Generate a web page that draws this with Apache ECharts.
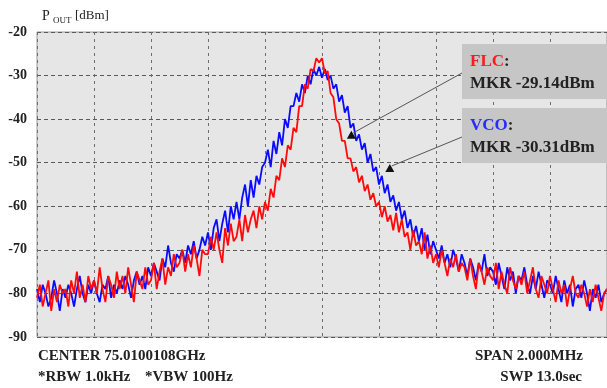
<!DOCTYPE html>
<html>
<head>
<meta charset="utf-8">
<script src="https://cdn.jsdelivr.net/npm/echarts@6/dist/echarts.min.js"></script>
<style>
html, body { margin: 0; padding: 0; background: #fff; }
#main { width: 607px; height: 388px; }
</style>
</head>
<body>
<div id="main"></div>
<script>
// sweep points, -1 .. +1 MHz around the centre, 0.01 MHz apart
const vcoTrace = [
    -79, -82, -78, -80, -83, -81, -77, -80, -84, -79,
    -81, -78, -80, -83, -79, -76, -80, -82, -78, -80,
    -77, -80, -82, -78, -79, -76, -81, -78, -80, -77,
    -79, -76, -78, -81, -77, -75, -78, -76, -79, -74,
    -76, -73, -75, -77, -72, -74, -69, -73, -75, -71,
    -72, -70, -73, -69, -71, -68, -72, -70, -67, -69,
    -66, -70, -65, -63, -68, -64, -61, -66, -60, -63,
    -59, -63, -58, -55, -60, -54, -58, -53, -55, -51,
    -50, -47, -51, -45, -48, -43, -46, -40, -42, -37,
    -37, -34, -36, -32, -34, -30, -32, -28.5, -30, -28,
    -30.5, -28.5, -31, -30, -33, -32, -36, -34.5, -38.5, -37,
    -42, -41, -45, -43.5, -47, -45.5, -50, -48, -52, -51,
    -55, -53, -57, -55, -59, -57.5, -61, -59, -63, -61,
    -65, -63, -67, -64.5, -68, -65, -70, -66.5, -71, -68,
    -70, -72, -69, -73, -71, -74, -70, -72, -75, -71,
    -73, -76, -72, -74, -77, -73, -75, -71, -76, -74,
    -75, -78, -73, -76, -79, -74, -77, -75, -80, -76,
    -77, -74, -78, -80, -76, -79, -75, -78, -81, -77,
    -78, -80, -76, -79, -82, -77, -80, -78, -83, -79,
    -78, -81, -77, -80, -84, -79, -81, -78, -82, -80,
    -79
];
const flcTrace = [
    -81, -78, -83, -80, -77, -84, -79, -82, -78, -80,
    -79, -83, -77, -80, -75, -81, -78, -82, -76, -79,
    -77, -80, -74, -79, -82, -76, -78, -81, -75, -79,
    -76, -80, -74, -78, -82, -75, -77, -79, -74, -78,
    -77, -73, -79, -75, -72, -78, -74, -76, -71, -74,
    -73, -70, -75, -71, -74, -69, -72, -76, -70, -71,
    -71, -67, -70, -66, -70, -73, -65, -69, -64, -68,
    -67, -63, -68, -62, -66, -63, -61, -65, -60, -63,
    -59, -61, -56, -58, -53, -54, -49, -51, -46, -47,
    -42, -43, -37, -37, -32, -33, -28.5, -29, -26, -27,
    -26, -29.5, -29, -34, -35, -40, -41, -45, -45, -49,
    -49, -52, -51, -54.5, -53, -56.5, -55, -58.5, -57, -60,
    -59, -62.5, -60, -63.5, -62, -65.5, -61.5, -66, -63, -67,
    -66, -70, -65.5, -69, -68, -71, -66, -72, -69, -73,
    -71, -74, -70, -73, -76, -72, -74, -71, -75, -73,
    -74, -77, -72, -76, -79, -73, -75, -78, -74, -76,
    -77, -73, -79, -75, -78, -80, -74, -77, -79, -76,
    -78, -75, -80, -77, -74, -79, -81, -76, -78, -80,
    -76, -79, -82, -77, -80, -78, -83, -79, -76, -80,
    -81, -78, -80, -83, -79, -82, -78, -81, -84, -80,
    -79
];
const spanStartMHz = -1;
const spanStepMHz = 0.01;
const freqOffset = vcoTrace.map((_, i) => +(spanStartMHz + i * spanStepMHz).toFixed(2));

const markerFreq = [0.103, 0.238];
const markerLevel = [-43.6, -51.2];
const markerNames = ['FLC', 'VCO'];
const markerReadout = ['MKR -29.14dBm', 'MKR -30.31dBm'];

const footerLeft = ['CENTER 75.0100108GHz', '*RBW 1.0kHz', '*VBW 100Hz'];
const footerRight = ['SPAN 2.000MHz', 'SWP 13.0sec'];

const serif = '"Liberation Serif", "DejaVu Serif", serif';
const nameColors = ['#ff1a1a', '#2a2aff'];

const myChart = echarts.init(document.getElementById('main'));

const option = {
    animation: false,
    grid: {
        left: 37,
        top: 32,
        width: 575,
        height: 305,
        show: true,
        backgroundColor: '#e6e6e6',
        borderColor: '#9a9a9a',
        borderWidth: 1
    },
    xAxis: {
        type: 'value',
        min: -1,
        max: 1,
        interval: 0.2,
        axisLine: { show: false },
        axisTick: { show: false },
        axisLabel: { show: false },
        splitLine: {
            show: true,
            lineStyle: { color: '#6e6e6e', width: 1, type: [3, 4] }
        }
    },
    yAxis: {
        type: 'value',
        min: -90,
        max: -20,
        interval: 10,
        axisLine: { show: false },
        axisTick: { show: false },
        axisLabel: {
            margin: 10,
            color: '#222',
            fontFamily: serif,
            fontWeight: 'bold',
            fontSize: 14
        },
        splitLine: {
            show: true,
            lineStyle: { color: '#5a5a5a', width: 1, type: [4, 3] }
        }
    },
    series: [
        {
            type: 'line',
            name: 'VCO',
            data: freqOffset.map((f, i) => [f, vcoTrace[i]]),
            showSymbol: false,
            color: '#0a0aff',
            lineStyle: { width: 1.8 }
        },
        {
            type: 'line',
            name: 'FLC',
            data: freqOffset.map((f, i) => [f, flcTrace[i]]),
            showSymbol: false,
            color: '#ff0a0a',
            lineStyle: { width: 1.8 },
            markPoint: {
                symbol: 'triangle',
                symbolSize: [9, 8],
                silent: true,
                itemStyle: { color: '#111' },
                label: { show: false },
                data: markerFreq.map((f, i) => ({ coord: [f, markerLevel[i]] }))
            }
        }
    ]
};

myChart.setOption(option);

// annotation boxes + leader lines
const boxTop = [44, 108];
const graphic = [
    {
        type: 'text', left: 42, top: 9,
        style: { text: 'P', font: '14px ' + serif, fill: '#222' }
    },
    {
        type: 'text', left: 53, top: 16,
        style: { text: 'OUT', font: '9px ' + serif, fill: '#222' }
    },
    {
        type: 'text', left: 75, top: 9,
        style: { text: '[dBm]', font: '13px ' + serif, fill: '#222' }
    },
    {
        type: 'text', left: 38, top: 349,
        style: { text: footerLeft[0], font: 'bold 15px ' + serif, fill: '#222' }
    },
    {
        type: 'text', left: 38, top: 370,
        style: { text: footerLeft[1], font: 'bold 15px ' + serif, fill: '#222' }
    },
    {
        type: 'text', left: 145, top: 370,
        style: { text: footerLeft[2], font: 'bold 15px ' + serif, fill: '#222' }
    },
    {
        type: 'text', right: 24, top: 349,
        style: { text: footerRight[0], font: 'bold 15px ' + serif, fill: '#222' }
    },
    {
        type: 'text', right: 25, top: 370,
        style: { text: footerRight[1], font: 'bold 15px ' + serif, fill: '#222' }
    }
];

markerFreq.forEach(function (f, i) {
    const p = myChart.convertToPixel({ gridIndex: 0 }, [f, markerLevel[i]]);
    graphic.push({
        type: 'line',
        shape: { x1: 462, y1: boxTop[i] + 29, x2: p[0] + 2, y2: p[1] - 2 },
        style: { stroke: '#555', lineWidth: 1 },
        z: 90
    });
    graphic.push({
        type: 'rect',
        shape: { x: 462, y: boxTop[i], width: 150, height: 55 },
        style: { fill: '#c6c6c6' },
        z: 100
    });
    graphic.push({
        type: 'text',
        x: 470, y: boxTop[i] + 9,
        style: {
            text: '{n|' + markerNames[i] + '}:',
            font: 'bold 17px ' + serif,
            fill: '#222',
            rich: { n: { font: 'bold 17px ' + serif, fill: nameColors[i] } }
        },
        z: 101
    });
    graphic.push({
        type: 'text',
        x: 470, y: boxTop[i] + 31,
        style: { text: markerReadout[i], font: 'bold 17px ' + serif, fill: '#222' },
        z: 101
    });
});

myChart.setOption({ graphic: graphic });
</script>
</body>
</html>
